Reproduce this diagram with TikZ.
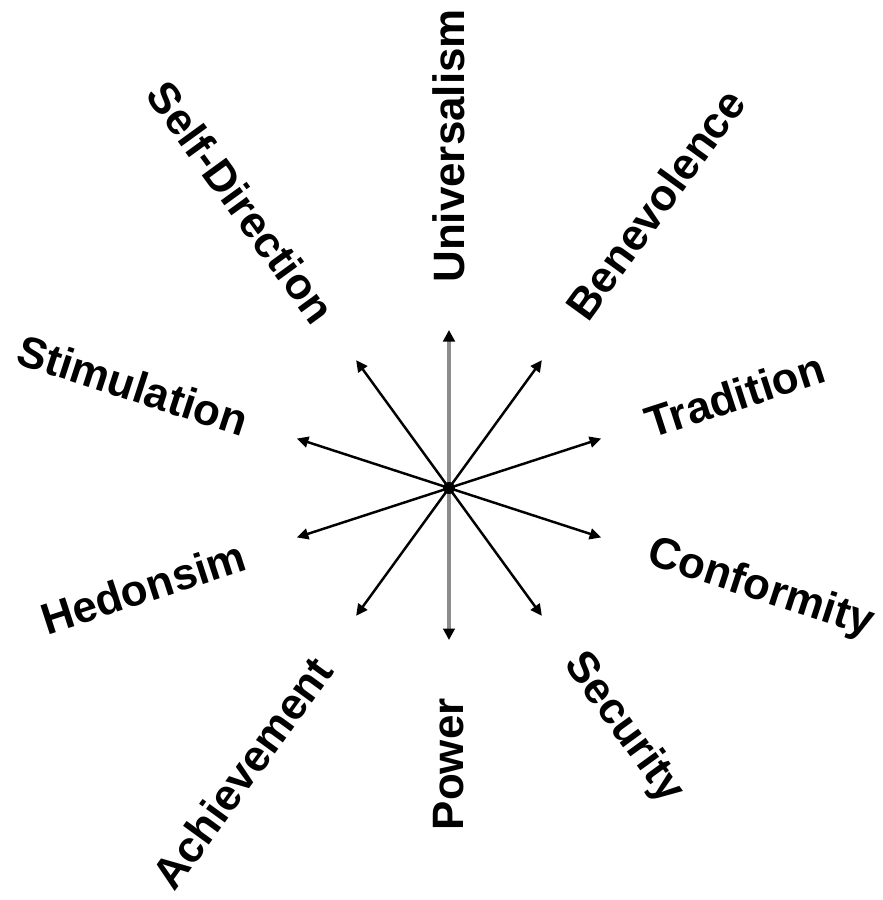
\documentclass[tikz,border=0pt]{standalone}
\usepackage{fontspec}
\setmainfont{Liberation Sans}
\usepackage{tikz}
\usetikzlibrary{arrows.meta}

\begin{document}
\begin{tikzpicture}[
  value/.style={font=\fontsize{25}{30}\selectfont\bfseries, inner sep=0pt},
  arr/.style={{Triangle[length=2.3mm,width=2.2mm]}-{Triangle[length=2.3mm,width=2.2mm]}, line width=1.4pt},
  axis/.style={{Triangle[length=2.3mm,width=2.3mm,color=black]}-{Triangle[length=2.3mm,width=2.3mm,color=black]}, line width=2.4pt, draw=black!45}
]
\useasboundingbox (-8.98,-8.24) rectangle (8.68,9.76);

\coordinate (c) at (0,0);
\coordinate (e90) at (90:3.16);
\coordinate (e270) at (270:3.04);
\coordinate (e54) at (54:3.16);
\coordinate (e234) at (234:3.16);
\coordinate (e18) at (18:3.2);
\coordinate (e198) at (198:3.2);
\coordinate (e162) at (162:3.2);
\coordinate (e342) at (342:3.2);
\coordinate (e126) at (126:3.16);
\coordinate (e306) at (306:3.16);

\draw[arr] (e54) -- (e234);
\draw[arr] (e18) -- (e198);
\draw[arr] (e162) -- (e342);
\draw[arr] (e126) -- (e306);
\draw[axis] (e270) -- (e90);
\fill (c) circle (0.12);

\node[value, rotate=90, anchor=west] (univ) at (90:4.1) {Universalism};
\node[value, rotate=54, anchor=west] (bene) at (54:4.3) {Benevolence};
\node[value, rotate=18, anchor=west] (trad) at (18:4.15) {Tradition};
\node[value, rotate=-18, anchor=west] (conf) at (-18:4.2) {Conformity};
\node[value, rotate=-54, anchor=west] (secu) at (-54:4.2) {Security};
\node[value, rotate=90, anchor=east] (powe) at (270:4.2) {Power};
\node[value, rotate=54, anchor=east] (achi) at (234:4.3) {Achievement};
\node[value, rotate=18, anchor=east] (hedo) at (198:4.3) {Hedonsim};
\node[value, rotate=-18, anchor=east] (stim) at (162:4.25) {Stimulation};
\node[value, rotate=-54, anchor=east] (self) at (126:4.2) {Self-Direction};

\end{tikzpicture}
\end{document}
